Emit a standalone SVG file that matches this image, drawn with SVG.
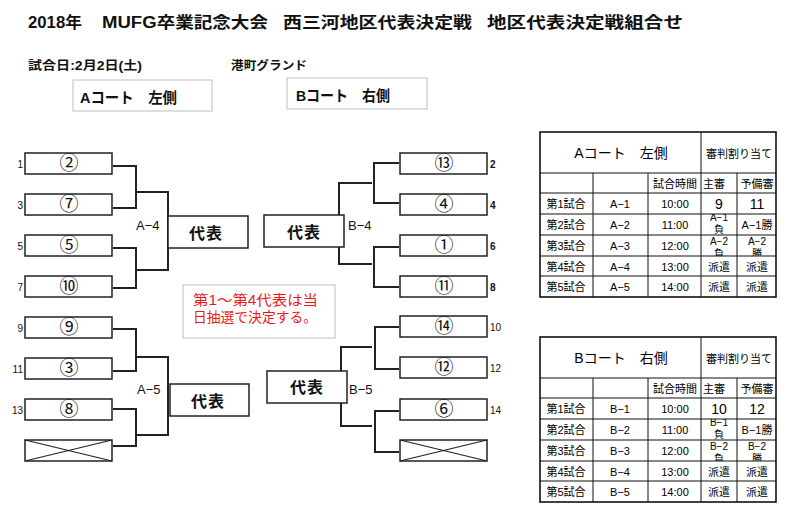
<svg xmlns="http://www.w3.org/2000/svg" width="800" height="520" viewBox="0 0 800 520">
<defs>
<style>
text{font-family:"Liberation Sans","Noto Sans CJK JP",sans-serif;fill:#111}
.b{font-weight:bold}
.box{fill:#fff;stroke:#222;stroke-width:1.5}
.hbox{fill:#fff;stroke:#c8c8c8;stroke-width:1.2}
.wire{fill:none;stroke:#222;stroke-width:2}
.x{stroke:#222;stroke-width:1.2}
.cn{font-family:"Noto Sans CJK JP",sans-serif;font-size:19px;text-anchor:middle}
.num{font-size:10px}
.lab{font-size:13px}
.rep{font-size:16px;font-weight:bold;text-anchor:middle;letter-spacing:1px}
.tl{fill:none;stroke:#111;stroke-width:1}
.tb{fill:none;stroke:#111;stroke-width:1.6}
.tc{font-size:11px;text-anchor:middle;fill:#000}
.sm{font-size:10px;text-anchor:middle;fill:#000}
.big{font-size:14px;text-anchor:middle;fill:#000}
.red{fill:#f01818;font-size:14px}
</style>
<clipPath id="c1"><rect x="701" y="214" width="36" height="21"/></clipPath>
<clipPath id="c2"><rect x="701" y="235" width="36" height="21"/></clipPath>
<clipPath id="c3"><rect x="737" y="235" width="39" height="21"/></clipPath>
<g id="tableBody">
<rect class="tb" x="540" y="132" width="236" height="165"/>
<path class="tl" d="M540,173H776M540,193H776M540,214H776M540,235H776M540,256H776M540,276H776"/>
<path class="tl" d="M701,132V297M593,173V297M648,173V297M737,173V297"/>
<text class="tc" x="739" y="158">審判割り当て</text>
<text class="tc" x="675" y="188">試合時間</text>
<text class="tc" x="714" y="188">主審</text>
<text class="tc" x="757" y="188">予備審</text>
<text class="tc" x="566" y="208">第1試合</text>
<text class="tc" x="566" y="229">第2試合</text>
<text class="tc" x="566" y="250">第3試合</text>
<text class="tc" x="566" y="271">第4試合</text>
<text class="tc" x="566" y="291">第5試合</text>
<text class="tc" x="675" y="208">10:00</text>
<text class="tc" x="675" y="229">11:00</text>
<text class="tc" x="675" y="250">12:00</text>
<text class="tc" x="675" y="271">13:00</text>
<text class="tc" x="675" y="291">14:00</text>
<text class="tc" x="719" y="271">派遣</text>
<text class="tc" x="757" y="271">派遣</text>
<text class="tc" x="719" y="291">派遣</text>
<text class="tc" x="757" y="291">派遣</text>
</g>
</defs>

<g id="title">
<text class="b" x="28" y="28" font-size="16" textLength="54" lengthAdjust="spacingAndGlyphs">2018年</text>
<text class="b" x="102" y="28" font-size="16" textLength="166" lengthAdjust="spacingAndGlyphs">MUFG卒業記念大会</text>
<text class="b" x="283" y="28" font-size="16" textLength="189" lengthAdjust="spacingAndGlyphs">西三河地区代表決定戦</text>
<text class="b" x="487" y="28" font-size="16" textLength="196" lengthAdjust="spacingAndGlyphs">地区代表決定戦組合せ</text>
<text class="b" x="28" y="70" font-size="12" textLength="114" lengthAdjust="spacingAndGlyphs">試合日:2月2日(土)</text>
<text class="b" x="231" y="70" font-size="12" textLength="76" lengthAdjust="spacingAndGlyphs">港町グランド</text>
</g>

<g id="courtA">
<rect class="hbox" x="73" y="80" width="139" height="31"/>
<text class="b" x="80" y="103" font-size="15" textLength="97" lengthAdjust="spacingAndGlyphs">Aコート　左側</text>
</g>
<g id="courtB">
<rect class="hbox" x="287" y="78" width="140" height="31"/>
<text class="b" x="296" y="101" font-size="15" textLength="94" lengthAdjust="spacingAndGlyphs">Bコート　右側</text>
</g>

<g id="connectors">
<path class="wire" d="M113,166H136V208H113"/>
<path class="wire" d="M136,192H168V270H136"/>
<path class="wire" d="M113,248H136V288H113"/>
<path class="wire" d="M113,329H136V371H113"/>
<path class="wire" d="M136,357H168V435H136"/>
<path class="wire" d="M113,409H136V446H113"/>
<path class="wire" d="M399,163H374V203H399"/>
<path class="wire" d="M372,183H339V264H372"/>
<path class="wire" d="M399,247H374V287H399"/>
<path class="wire" d="M399,327H375V369H399"/>
<path class="wire" d="M372,347H341V426H372"/>
<path class="wire" d="M399,411H375V452H399"/>
</g>

<g id="slotL1"><rect class="box" x="25" y="153" width="87" height="21"/><text class="cn" x="69" y="170">②</text><text class="num" x="23" y="168" text-anchor="end">1</text></g>
<g id="slotL3"><rect class="box" x="25" y="194" width="87" height="21"/><text class="cn" x="69" y="211">⑦</text><text class="num" x="23" y="209" text-anchor="end">3</text></g>
<g id="slotL5"><rect class="box" x="25" y="235" width="87" height="21"/><text class="cn" x="69" y="252">⑤</text><text class="num" x="23" y="250" text-anchor="end">5</text></g>
<g id="slotL7"><rect class="box" x="25" y="276" width="87" height="21"/><text class="cn" x="69" y="293">⑩</text><text class="num" x="23" y="291" text-anchor="end">7</text></g>
<g id="slotL9"><rect class="box" x="25" y="317" width="87" height="21"/><text class="cn" x="69" y="334">⑨</text><text class="num" x="23" y="332" text-anchor="end">9</text></g>
<g id="slotL11"><rect class="box" x="25" y="358" width="87" height="21"/><text class="cn" x="69" y="375">③</text><text class="num" x="23" y="373" text-anchor="end">11</text></g>
<g id="slotL13"><rect class="box" x="25" y="399" width="87" height="21"/><text class="cn" x="69" y="416">⑧</text><text class="num" x="23" y="414" text-anchor="end">13</text></g>
<g id="slotL15"><rect class="box" x="25" y="440" width="87" height="21"/><path class="x" d="M25,440L112,461M25,461L112,440"/></g>

<g id="slotR2"><rect class="box" x="400" y="153" width="87" height="21"/><text class="cn" x="444" y="170">⑬</text><text class="num b" x="490" y="168">2</text></g>
<g id="slotR4"><rect class="box" x="400" y="194" width="87" height="21"/><text class="cn" x="444" y="211">④</text><text class="num b" x="490" y="209">4</text></g>
<g id="slotR6"><rect class="box" x="400" y="235" width="87" height="21"/><text class="cn" x="444" y="252">①</text><text class="num b" x="490" y="250">6</text></g>
<g id="slotR8"><rect class="box" x="400" y="276" width="87" height="21"/><text class="cn" x="444" y="293">⑪</text><text class="num b" x="490" y="291">8</text></g>
<g id="slotR10"><rect class="box" x="400" y="316" width="87" height="21"/><text class="cn" x="444" y="333">⑭</text><text class="num" x="490" y="331" font-size="11">10</text></g>
<g id="slotR12"><rect class="box" x="400" y="357" width="87" height="21"/><text class="cn" x="444" y="374">⑫</text><text class="num" x="490" y="372" font-size="11">12</text></g>
<g id="slotR14"><rect class="box" x="400" y="399" width="87" height="21"/><text class="cn" x="444" y="416">⑥</text><text class="num" x="490" y="414" font-size="11">14</text></g>
<g id="slotR16"><rect class="box" x="400" y="440" width="87" height="21"/><path class="x" d="M400,440L487,461M400,461L487,440"/></g>

<g id="repA4"><rect class="box" x="168" y="216" width="80" height="32"/><text class="rep" x="206" y="239">代表</text><text class="lab" x="136" y="230">A−4</text></g>
<g id="repA5"><rect class="box" x="170" y="384" width="79" height="32"/><text class="rep" x="208" y="407">代表</text><text class="lab" x="137" y="394">A−5</text></g>
<g id="repB4"><rect class="box" x="264" y="215" width="80" height="32"/><text class="rep" x="304" y="238">代表</text><text class="lab" x="348" y="230">B−4</text></g>
<g id="repB5"><rect class="box" x="267" y="371" width="80" height="32"/><text class="rep" x="307" y="393">代表</text><text class="lab" x="349" y="394">B−5</text></g>

<g id="note">
<rect class="hbox" x="183" y="285" width="152" height="53"/>
<text class="red" x="193" y="305" textLength="125" lengthAdjust="spacingAndGlyphs">第1～第4代表は当</text>
<text class="red" x="193" y="322" textLength="124" lengthAdjust="spacingAndGlyphs">日抽選で決定する。</text>
</g>

<g id="tableA">
<use href="#tableBody"/>
<text class="big" x="621" y="158">Aコート　左側</text>
<text class="tc" x="620" y="208">A−1</text>
<text class="tc" x="620" y="229">A−2</text>
<text class="tc" x="620" y="250">A−3</text>
<text class="tc" x="620" y="271">A−4</text>
<text class="tc" x="620" y="291">A−5</text>
<text class="big" x="719" y="209">9</text>
<text class="big" x="757" y="209">11</text>
<g clip-path="url(#c1)"><text class="sm" x="719" y="221">A−1</text><text class="sm" x="719" y="233">負</text></g>
<text class="tc" x="757" y="229">A−1勝</text>
<g clip-path="url(#c2)"><text class="sm" x="719" y="245">A−2</text><text class="sm" x="719" y="257">負</text></g>
<g clip-path="url(#c3)"><text class="sm" x="757" y="245">A−2</text><text class="sm" x="757" y="257">勝</text></g>
</g>

<g id="tableB" transform="translate(0,205)">
<use href="#tableBody"/>
<text class="big" x="621" y="158">Bコート　右側</text>
<text class="tc" x="620" y="208">B−1</text>
<text class="tc" x="620" y="229">B−2</text>
<text class="tc" x="620" y="250">B−3</text>
<text class="tc" x="620" y="271">B−4</text>
<text class="tc" x="620" y="291">B−5</text>
<text class="big" x="719" y="209">10</text>
<text class="big" x="757" y="209">12</text>
<g clip-path="url(#c1)"><text class="sm" x="719" y="221">B−1</text><text class="sm" x="719" y="233">負</text></g>
<text class="tc" x="757" y="229">B−1勝</text>
<g clip-path="url(#c2)"><text class="sm" x="719" y="245">B−2</text><text class="sm" x="719" y="257">負</text></g>
<g clip-path="url(#c3)"><text class="sm" x="757" y="245">B−2</text><text class="sm" x="757" y="257">勝</text></g>
</g>
</svg>
